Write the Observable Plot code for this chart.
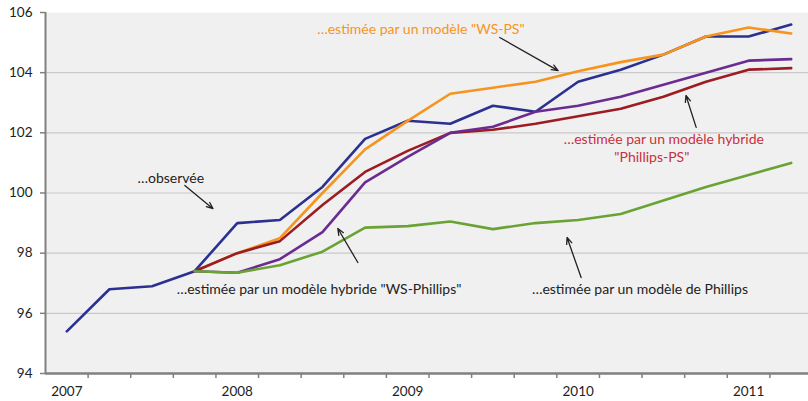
<!DOCTYPE html>
<html><head><meta charset="utf-8">
<script src="https://cdn.jsdelivr.net/npm/d3@7"></script>
<script src="https://cdn.jsdelivr.net/npm/@observablehq/plot@0.6"></script>
<style>html,body{margin:0;padding:0;overflow:hidden;background:#fff}</style>
</head><body><div id="chart"></div>
<script>
// quarterly index: 0 = 2007 T1 ... 17 = 2011 T2
const years = ["2007","2008","2009","2010","2011"];
const yTicks = [94,96,98,100,102,104,106];
const gridValues = [96,98,100,102,104];

const observed   = [95.4, 96.8, 96.9, 97.4, 99.0, 99.1, 100.2, 101.8, 102.4, 102.3, 102.9, 102.7, 103.7, 104.1, 104.6, 105.2, 105.2, 105.6];
// estimated series start at quarter index 3
const estStart = 3;
const wsps       = [97.4, 98.0, 98.5, 100.0, 101.45, 102.4, 103.3, 103.5, 103.7, 104.05, 104.35, 104.6, 105.2, 105.5, 105.3];
const phillipsPS = [97.4, 98.0, 98.4, 99.6, 100.7, 101.4, 102.0, 102.1, 102.3, 102.55, 102.8, 103.2, 103.7, 104.1, 104.15];
const wsPhillips = [97.4, 97.35, 97.8, 98.7, 100.35, 101.2, 102.0, 102.2, 102.7, 102.9, 103.2, 103.6, 104.0, 104.4, 104.45];
const phillips   = [97.4, 97.35, 97.6, 98.05, 98.85, 98.9, 99.05, 98.8, 99.0, 99.1, 99.3, 99.75, 100.2, 100.6, 101.0];

const colors = {
  observed: "#2b3191",
  wsps: "#f7941d",
  phillipsPS: "#9b1c22",
  wsPhillips: "#6a2c91",
  phillips: "#6aa334"
};

const toRows = (vals, start, name) => vals.map((v, k) => ({i: start + k, v, name}));
const rows = {
  observed: toRows(observed, 0, "observed"),
  wsps: toRows(wsps, estStart, "wsps"),
  phillipsPS: toRows(phillipsPS, estStart, "phillipsPS"),
  wsPhillips: toRows(wsPhillips, estStart, "wsPhillips"),
  phillips: toRows(phillips, estStart, "phillips")
};
const drawOrder = ["observed", "wsps", "phillipsPS", "wsPhillips", "phillips"];

// annotations (data coordinates: quarter index, value)
const notes = [
  {text: "…observée", x: 2.44, y: 100.48, color: "#222"},
  {text: "…estimée par un modèle \"WS-PS\"", x: 8.31, y: 105.43, color: "#f7941d"},
  {text: "…estimée par un modèle hybride", x: 14.01, y: 101.78, color: "#c9303c"},
  {text: "\"Phillips-PS\"", x: 13.73, y: 101.18, color: "#c9303c"},
  {text: "…estimée par un modèle hybride \"WS-Phillips\"", x: 5.92, y: 96.79, color: "#222"},
  {text: "…estimée par un modèle de Phillips", x: 13.45, y: 96.79, color: "#222"}
];
const arrows = [
  {x1: 2.77, y1: 100.25, x2: 3.43, y2: 99.48},
  {x1: 10.16, y1: 105.17, x2: 11.53, y2: 104.07},
  {x1: 14.77, y1: 102.18, x2: 14.53, y2: 103.24},
  {x1: 6.83, y1: 97.69, x2: 6.36, y2: 98.82},
  {x1: 12.07, y1: 97.19, x2: 11.74, y2: 98.52}
];

const chart = Plot.plot({
  width: 808,
  height: 401,
  marginLeft: 45,
  marginRight: -4,
  marginTop: 12,
  marginBottom: 28,
  style: {fontFamily: "Lato, 'Open Sans', sans-serif", fontSize: "13px", background: "#fff", overflow: "hidden"},
  x: {domain: [-0.5, 17.5]},
  y: {domain: [94, 106]},
  marks: [
    Plot.frame({fill: "#f0f0f0", stroke: "none"}),
    Plot.ruleY(gridValues, {stroke: "#c9c9c9", strokeWidth: 1.2}),
    ...drawOrder.map(k => Plot.line(rows[k], {x: "i", y: "v", stroke: colors[k], strokeWidth: 2.6, strokeLinejoin: "miter"})),
    Plot.axisY(yTicks, {tickSize: 5, tickPadding: 8, stroke: "#808080", strokeWidth: 1.5, fill: "#222", fontSize: 13.5, label: null}),
    Plot.axisX(d3.range(0.5, 17, 1), {tickSize: 5, tickFormat: () => "", stroke: "#808080", strokeWidth: 1.5, label: null}),
    Plot.axisX(d3.range(0, 17, 4), {tickSize: 0, tickPadding: 13, tickFormat: i => years[i / 4], fill: "#222", fontSize: 13.5, label: null}),
    Plot.ruleX([-0.5], {stroke: "#808080", strokeWidth: 2}),
    Plot.ruleY([94], {stroke: "#808080", strokeWidth: 2.5}),
    Plot.text(notes, {x: "x", y: "y", text: "text", fill: "color", fontSize: 14, textAnchor: "middle"}),
    Plot.arrow(arrows, {x1: "x1", y1: "y1", x2: "x2", y2: "y2", stroke: "#222", strokeWidth: 1.3, headLength: 8, headAngle: 45})
  ]
});
document.getElementById("chart").appendChild(chart);
</script>
</body></html>
